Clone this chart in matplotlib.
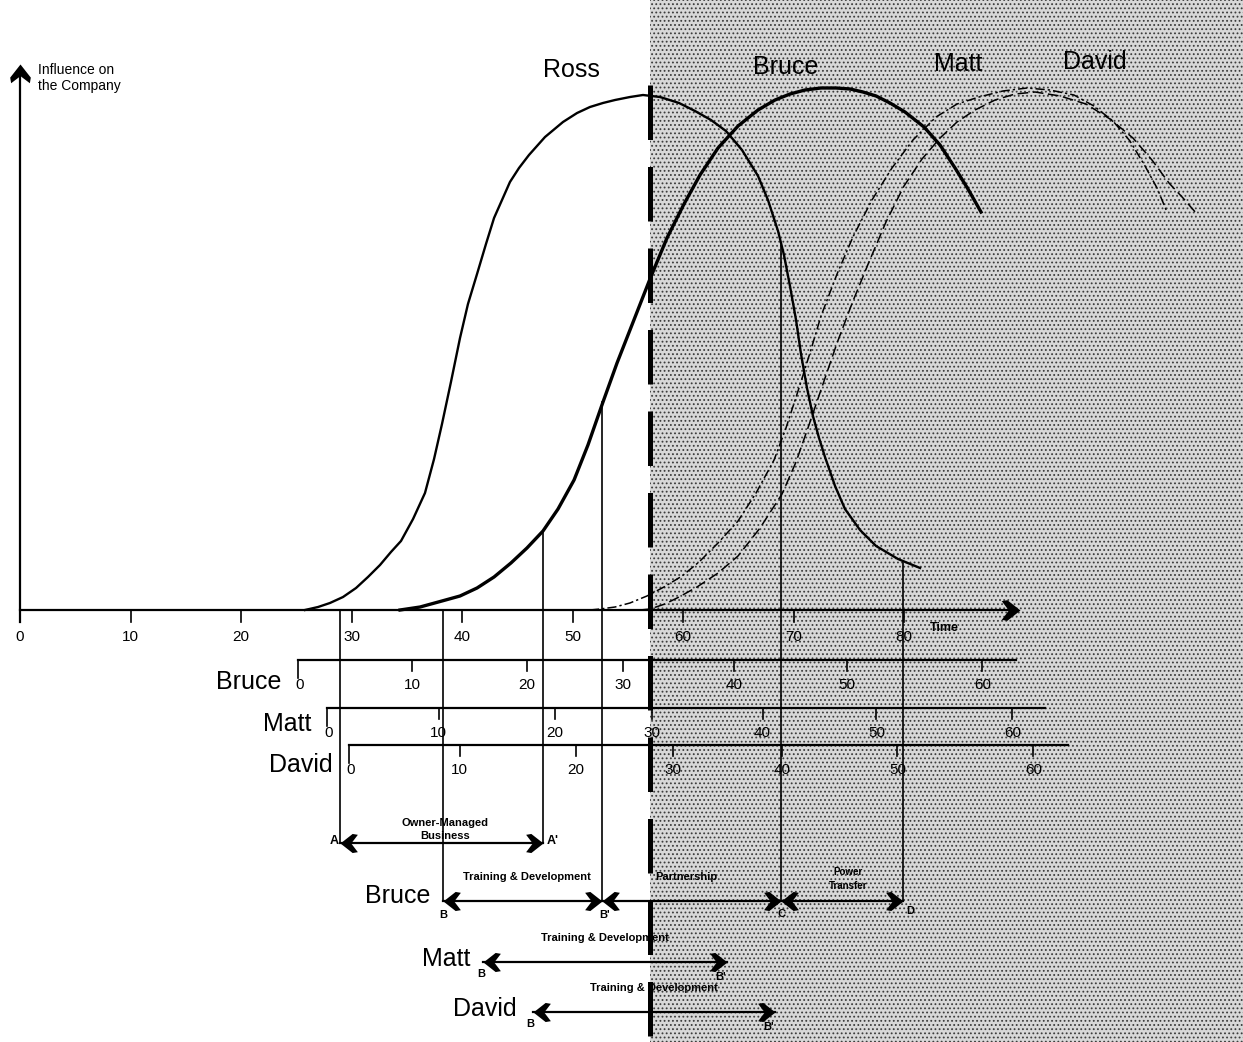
import matplotlib.pyplot as plt
from matplotlib.path import Path

plt.rcParams['font.family'] = ['Liberation Sans', 'DejaVu Sans']
plt.rcParams['hatch.linewidth'] = 0.8

# influence curves: x = year on the main time axis, y = influence (Ross peak = 100)
ross_year = [25.79, 26.97, 28.05, 29.23, 30.41, 31.49, 32.58, 33.57, 34.48, 35.57, 36.65, 37.47,
             38.19, 39.00, 39.82, 40.54, 41.36, 42.17, 42.90, 43.62, 44.34, 45.16, 46.06, 47.51,
             49.14, 50.41, 51.58, 52.76, 53.85, 55.20, 56.38, 57.92, 59.64, 61.09, 62.53, 63.89,
             65.34, 66.79, 67.69, 68.60, 69.14, 69.68, 70.23, 70.68, 71.22, 71.76, 72.31, 72.85,
             73.76, 74.66, 76.02, 77.47, 79.46, 81.45]
ross_infl = [0, 0.58, 1.36, 2.52, 4.27, 6.41, 8.74, 11.26, 13.40, 17.67, 22.72, 29.32,
             36.12, 44.27, 52.82, 59.42, 65.24, 71.07, 76.12, 79.61, 83.11, 85.83, 88.35, 91.84,
             94.76, 96.50, 97.67, 98.45, 99.03, 99.61, 100.0, 99.61, 98.45, 96.89, 95.15, 93.01,
             89.32, 84.27, 79.61, 73.59, 68.93, 62.91, 56.31, 49.71, 43.11, 37.67, 33.40, 29.71,
             24.08, 19.61, 15.53, 12.43, 9.90, 8.16]

bruce_year = [34.39, 36.20, 38.19, 39.82, 41.36, 42.90, 44.43, 45.88, 47.33, 48.69, 50.14, 51.40,
              52.76, 54.03, 55.38, 57.01, 58.55, 60.09, 61.54, 63.17, 64.98, 66.79, 68.33, 69.68,
              71.04, 72.49, 73.85, 75.11, 76.29, 77.47, 78.73, 80.09, 81.81, 83.26, 84.62, 85.79,
              86.97]
bruce_infl = [0, 0.58, 1.75, 2.72, 4.27, 6.41, 9.13, 12.04, 15.34, 19.61, 25.24, 32.04,
              40.39, 47.96, 55.34, 64.27, 72.23, 78.83, 84.47, 89.71, 93.98, 97.09, 99.03, 100.19,
              100.97, 101.36, 101.36, 101.17, 100.58, 99.81, 98.45, 96.70, 93.79, 90.29, 85.83, 81.75,
              77.28]

matt_year = [51.58, 52.49, 53.85, 55.20, 56.74, 58.28, 59.91, 61.45, 63.17, 64.98, 66.61, 68.24,
             69.32, 70.41, 71.49, 72.49, 73.94, 75.38, 77.10, 78.91, 80.81, 82.90, 84.80, 86.79,
             88.96, 91.13, 93.21, 95.38, 97.19, 98.91, 100.45, 101.81, 102.90, 103.80]
matt_infl = [0, 0.19, 0.58, 1.36, 2.72, 4.47, 6.60, 9.32, 13.01, 17.28, 22.72, 29.13,
             35.34, 42.52, 49.90, 57.09, 65.24, 72.43, 79.61, 85.83, 91.26, 95.73, 98.25, 99.61,
             100.78, 101.36, 100.97, 100.0, 97.86, 94.95, 91.07, 86.21, 81.94, 77.28]

david_year = [56.11, 57.01, 58.37, 59.64, 61.27, 63.17, 64.98, 66.97, 68.96, 70.23, 71.40, 72.67,
              73.94, 75.38, 76.83, 78.37, 80.00, 81.63, 83.26, 84.80, 86.43, 88.24, 90.05, 91.86,
              94.12, 96.47, 98.64, 100.72, 102.44, 103.98, 105.25, 106.43]
david_infl = [0, 0.19, 1.17, 2.52, 4.47, 7.18, 10.49, 15.92, 22.52, 28.74, 35.92, 43.88,
              51.84, 59.98, 67.57, 75.34, 82.33, 87.57, 91.65, 94.76, 97.09, 99.03, 100.19, 100.58,
              99.81, 98.25, 95.34, 91.65, 87.38, 82.91, 80.0, 77.09]

now_year = 57.0
main_ticks = [0, 10, 20, 30, 40, 50, 60, 70, 80]

# age scales of the successors, placed on the main time axis
age_labels = [0, 10, 20, 30, 40, 50, 60]
bruce_age_at = [25.2, 35.5, 45.9, 54.6, 64.6, 74.8, 87.1]
matt_age_at = [27.8, 37.9, 48.4, 57.2, 67.2, 77.5, 89.8]
david_age_at = [29.8, 39.8, 50.3, 59.1, 69.0, 79.4, 91.7]
age_scale_end = [90.1, 92.8, 94.8]

# phase markers
events = ['A', "A'", 'B', "B'", 'C', 'D']
event_year = [29.0, 47.3, 38.3, 52.7, 68.9, 79.9]
event_top = [0, 15.3, 0, 40.4, 70.9, 9.1]

matt_training = [41.9, 64.0]
david_training = [46.4, 68.3]


# layout helpers: pixel position of the 1243x1042 picture -> data units
def X(p):
    return (p - 20) / 11.05


def Y(p):
    return (610 - p) / 5.15


chev_l = Path([(0, 0), (0.7, 0.55), (1.0, 0.5), (0.62, 0), (1.0, -0.5), (0.7, -0.55), (0, 0)], closed=True)
chev_r = Path([(-x, y) for x, y in chev_l.vertices], closed=True)
chev_u = Path([(y, -x) for x, y in chev_l.vertices], closed=True)


def head(x, y, path, ms=25):
    ax.plot([x], [y], ls='none', marker=path, ms=ms, color='k', mew=0, zorder=6)


fig = plt.figure(figsize=(12.43, 10.42), dpi=100)
ax = fig.add_axes([0, 0, 1, 1])
ax.set_xlim(X(0), X(1243))
ax.set_ylim(Y(1042), Y(0))
ax.axis('off')

# stippled "future" area
ax.axvspan(now_year, X(1243), facecolor='#d8d8d8', hatch='....', edgecolor='#3c3c3c', lw=0, zorder=0)

# curves
ax.plot(ross_year, ross_infl, color='k', lw=1.7, zorder=3)
ax.plot(bruce_year, bruce_infl, color='k', lw=2.4, zorder=3)
ax.plot(matt_year, matt_infl, color='k', lw=1.1, ls=(0, (6, 2, 1.5, 2)), zorder=3)
ax.plot(david_year, david_infl, color='k', lw=1.1, ls=(0, (7, 3)), zorder=3)

# "now" line
ax.plot([now_year, now_year], [Y(85), Y(1042)], color='k', lw=3.6, ls=(0, (10.9, 5.4)), zorder=5)

# main axes
ax.plot([0, X(1010)], [0, 0], color='k', lw=1.6, zorder=4)
head(X(1020), 0, chev_r, 27)
ax.plot([0, 0], [Y(622), Y(72)], color='k', lw=1.6, zorder=4)
head(0, Y(64), chev_u, 27)
for t in main_ticks:
    ax.plot([t, t], [0, Y(622)], color='k', lw=1.2)
    ax.text(t, Y(637), str(t), ha='center', va='center', fontsize=11)
ax.text(X(930), Y(628), 'Time', ha='left', va='center', fontsize=9, fontweight='bold')
ax.text(X(38), Y(70), 'Influence on', ha='left', va='center', fontsize=10)
ax.text(X(38), Y(86), 'the Company', ha='left', va='center', fontsize=10)

# curve names
ax.text(X(571), Y(70), 'Ross', ha='center', va='center', fontsize=18)
ax.text(X(786), Y(67), 'Bruce', ha='center', va='center', fontsize=18)
ax.text(X(958), Y(64), 'Matt', ha='center', va='center', fontsize=18)
ax.text(X(1095), Y(62), 'David', ha='center', va='center', fontsize=18)

# age scales
scales = [('Bruce', bruce_age_at, 660, 281, 682),
          ('Matt', matt_age_at, 708, 311, 724),
          ('David', david_age_at, 745, 333, 765)]
for (name, pos, row, name_x, name_y), end in zip(scales, age_scale_end):
    ax.plot([pos[0], end], [Y(row), Y(row)], color='k', lw=1.6, zorder=4)
    ax.plot([pos[0], pos[0]], [Y(row), Y(row + 18)], color='k', lw=1.2)
    for p, lab in zip(pos, age_labels):
        if lab > 0:
            ax.plot([p, p], [Y(row), Y(row + 11)], color='k', lw=1.2)
        ax.text(p + (0.15 if lab == 0 else 0), Y(row + 25), str(lab), ha='center', va='center', fontsize=11)
    ax.text(X(name_x), Y(name_y), name, ha='right', va='center', fontsize=18)

# phase marker lines
row_a, row_b = 843, 901
for ev, x, top in zip(events, event_year, event_top):
    bottom = row_a if ev in ('A', "A'") else row_b
    ax.plot([x, x], [top, Y(bottom)], color='k', lw=1.2, zorder=2)

# Owner-managed business A -> A'
ax.plot([event_year[0], event_year[1]], [Y(row_a), Y(row_a)], color='k', lw=1.6)
head(event_year[0], Y(row_a), chev_l)
head(event_year[1], Y(row_a), chev_r)
ax.text(X(334), Y(841), 'A', ha='center', va='center', fontsize=9, fontweight='bold')
ax.text(X(553), Y(841), "A'", ha='center', va='center', fontsize=9, fontweight='bold')
ax.text(X(445), Y(823), 'Owner-Managed', ha='center', va='center', fontsize=8, fontweight='bold')
ax.text(X(445), Y(836), 'Business', ha='center', va='center', fontsize=8, fontweight='bold')

# Bruce B -> B' -> C -> D
ax.plot([event_year[2], event_year[5]], [Y(row_b), Y(row_b)], color='k', lw=1.6)
head(event_year[2], Y(row_b), chev_l)
head(event_year[3], Y(row_b), chev_r)
head(event_year[3], Y(row_b), chev_l)
head(event_year[4], Y(row_b), chev_r)
head(event_year[4], Y(row_b), chev_l)
head(event_year[5], Y(row_b), chev_r)
ax.text(X(398), Y(896), 'Bruce', ha='center', va='center', fontsize=18)
ax.text(X(443), Y(915), 'B', ha='center', va='center', fontsize=8, fontweight='bold')
ax.text(X(605), Y(915), "B'", ha='center', va='center', fontsize=8, fontweight='bold')
ax.text(X(782), Y(914), 'C', ha='center', va='center', fontsize=8, fontweight='bold')
ax.text(X(910), Y(911), 'D', ha='center', va='center', fontsize=8, fontweight='bold')
ax.text(X(527), Y(877), 'Training & Development', ha='center', va='center', fontsize=8, fontweight='bold')
ax.text(X(655), Y(877), 'Partnership', ha='left', va='center', fontsize=8, fontweight='bold')
ax.text(X(848), Y(872), 'Power', ha='center', va='center', fontsize=7, fontweight='bold')
ax.text(X(848), Y(886), 'Transfer', ha='center', va='center', fontsize=7, fontweight='bold')

# Matt and David training
for name, (x0, x1), row, name_x in [('Matt', matt_training, 962, 446), ('David', david_training, 1012, 485)]:
    ax.plot([x0, x1], [Y(row), Y(row)], color='k', lw=1.6)
    head(x0, Y(row), chev_l)
    head(x1, Y(row), chev_r)
    ax.text(X(name_x), Y(row - 3), name, ha='center', va='center', fontsize=18)
    ax.text(x0 - 0.2, Y(row + 12), 'B', ha='center', va='center', fontsize=8, fontweight='bold')
    ax.text(x1 - 0.6, Y(row + 15), "B'", ha='center', va='center', fontsize=8, fontweight='bold')
    ax.text((x0 + x1) / 2, Y(row - 24), 'Training & Development', ha='center', va='center',
            fontsize=8, fontweight='bold')

fig.savefig('out.png', dpi=100)
